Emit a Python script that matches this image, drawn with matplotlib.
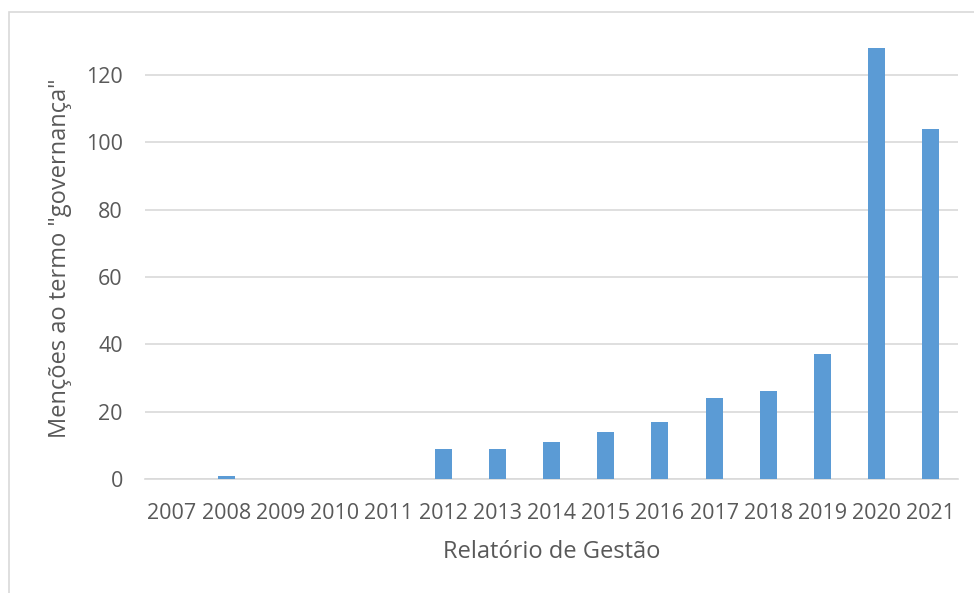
import matplotlib
matplotlib.use("Agg")
import matplotlib.pyplot as plt
from matplotlib.patches import Rectangle

years = ["2007", "2008", "2009", "2010", "2011", "2012", "2013", "2014",
         "2015", "2016", "2017", "2018", "2019", "2020", "2021"]
mentions = [0, 1, 0, 0, 0, 9, 9, 11, 14, 17, 24, 26, 37, 128, 104]
yticks = [0, 20, 40, 60, 80, 100, 120]

W, H = 974, 593
fig = plt.figure(figsize=(W / 100, H / 100), dpi=100)
fig.patch.set_facecolor("white")
fig.add_artist(Rectangle((9 / W, -0.05), 1.0, 1 - 12 / H + 0.05, transform=fig.transFigure,
                         fill=False, edgecolor="#D9D9D9", linewidth=1.2))

ax = fig.add_axes([145 / W, 1 - 479 / H, (958 - 145) / W, (479 - 38) / H])
x = range(len(years))
ax.bar(x, mentions, width=0.31, color="#5B9BD5", zorder=3)
ax.set_xlim(-0.5, len(years) - 0.5)
ax.set_ylim(0, 131)
ax.set_yticks(yticks)
ax.set_xticks(list(x))
ax.set_xticklabels(years)
ax.grid(axis="y", color="#D9D9D9", linewidth=1.2, zorder=0)
for s in ["top", "right", "left"]:
    ax.spines[s].set_visible(False)
ax.spines["bottom"].set_color("#D9D9D9")
ax.spines["bottom"].set_linewidth(1.2)
ax.tick_params(axis="both", length=0, labelsize=15.5, colors="#595959", labelfontfamily="Open Sans")
ax.tick_params(axis="y", pad=16)
ax.tick_params(axis="x", pad=17)
ax.set_xlabel("Relatório de Gestão", fontsize=17, color="#595959", family="Open Sans", labelpad=12)
ax.set_ylabel('Menções ao termo "governança"', fontsize=17, color="#595959", family="Open Sans", labelpad=10)

fig.savefig("out.png", dpi=100)
